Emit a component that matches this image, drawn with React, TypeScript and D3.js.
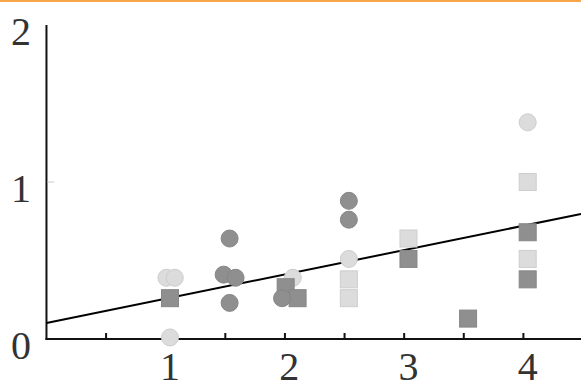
import React from "react";
import * as d3 from "d3";

// marker groups: [x, y]
const lightCircles: [number, number][] = [
  [0.97, 0.39], [1.04, 0.39], [1.0, 0.01], [2.03, 0.39], [2.5, 0.51], [4.0, 1.38],
];
const lightSquares: [number, number][] = [
  [2.5, 0.38], [2.5, 0.26], [3.0, 0.64], [4.0, 1.0], [4.0, 0.51],
];
const darkSquares: [number, number][] = [
  [1.0, 0.26], [1.97, 0.33], [2.07, 0.26], [3.0, 0.51], [3.5, 0.13], [4.0, 0.68], [4.0, 0.38],
];
const darkCircles: [number, number][] = [
  [1.5, 0.64], [1.45, 0.41], [1.55, 0.39], [1.5, 0.23], [1.94, 0.26], [2.5, 0.88], [2.5, 0.76],
];
const xTickValues = [0.5, 1, 1.5, 2, 2.5, 3, 3.5, 4];
const xLabels = [1, 2, 3, 4];
const yLabels = [0, 1, 2];
// fitted trend line: y = intercept + slope * x
const trend = { intercept: 0.107, slope: 0.155 };

const W = 581;
const H = 384;

export default function App() {
  const ref = React.useRef<SVGSVGElement>(null);

  React.useEffect(() => {
    const svg = d3.select(ref.current);
    svg.selectAll("*").remove();

    const x = d3.scaleLinear().domain([1, 4]).range([170, 527.7]);
    const y = d3.scaleLinear().domain([0, 2]).range([339, 25]);
    const shift = -4.3; // axis/ticks sit a little left of the data positions
    const x0 = x(0) + shift;

    // orange strip at the top
    svg.append("rect").attr("x", 0).attr("y", 0).attr("width", W).attr("height", 2).attr("fill", "#f9a54a");

    // axes
    svg.append("line").attr("x1", x0).attr("x2", x0).attr("y1", y(2)).attr("y2", y(0) + 1)
      .attr("stroke", "#111").attr("stroke-width", 2);
    svg.append("line").attr("x1", x0 - 1).attr("x2", W).attr("y1", y(0)).attr("y2", y(0))
      .attr("stroke", "#111").attr("stroke-width", 2);

    svg.selectAll("line.xtick").data(xTickValues).enter().append("line")
      .attr("class", "xtick")
      .attr("x1", (d) => x(d) + shift).attr("x2", (d) => x(d) + shift)
      .attr("y1", y(0)).attr("y2", y(0) - 6)
      .attr("stroke", "#111").attr("stroke-width", 2);

    svg.append("line").attr("x1", x0 + 1).attr("x2", x0 + 8).attr("y1", y(1)).attr("y2", y(1))
      .attr("stroke", "#ccc").attr("stroke-width", 1);

    const font = "'Liberation Serif', 'Times New Roman', serif";
    svg.selectAll("text.ylab").data(yLabels).enter().append("text")
      .attr("class", "ylab")
      .attr("x", 21).attr("y", (d) => y(d) + 20)
      .attr("text-anchor", "middle").attr("font-family", font).attr("font-size", 40).attr("fill", "#333")
      .text((d) => d);

    svg.selectAll("text.xlab").data(xLabels).enter().append("text")
      .attr("class", "xlab")
      .attr("x", (d) => x(d)).attr("y", y(0) + 41)
      .attr("text-anchor", "middle").attr("font-family", font).attr("font-size", 40).attr("fill", "#333")
      .text((d) => d);

    // trend line
    const xa = x.invert(x0), xb = x.invert(W);
    svg.append("line")
      .attr("x1", x0).attr("y1", y(trend.intercept + trend.slope * xa))
      .attr("x2", W).attr("y2", y(trend.intercept + trend.slope * xb))
      .attr("stroke", "#000").attr("stroke-width", 2);

    const light = { fill: "#dcdcdc", stroke: "#cdcdcd" };
    const dark = { fill: "#8f8f8f", stroke: "#868686" };
    const r = 8.5;
    const s = 17;

    const circles = (data: [number, number][], c: { fill: string; stroke: string }) =>
      svg.append("g").selectAll("circle").data(data).enter().append("circle")
        .attr("cx", (d) => x(d[0])).attr("cy", (d) => y(d[1])).attr("r", r)
        .attr("fill", c.fill).attr("stroke", c.stroke).attr("stroke-width", 1);
    const squares = (data: [number, number][], c: { fill: string; stroke: string }) =>
      svg.append("g").selectAll("rect").data(data).enter().append("rect")
        .attr("x", (d) => x(d[0]) - s / 2).attr("y", (d) => y(d[1]) - s / 2)
        .attr("width", s).attr("height", s)
        .attr("fill", c.fill).attr("stroke", c.stroke).attr("stroke-width", 1);

    circles(lightCircles, light);
    squares(lightSquares, light);
    squares(darkSquares, dark);
    circles(darkCircles, dark);
  }, []);

  return (
    <svg ref={ref} width={W} height={H} style={{ position: "absolute", left: 0, top: 0, background: "#fff" }} />
  );
}
